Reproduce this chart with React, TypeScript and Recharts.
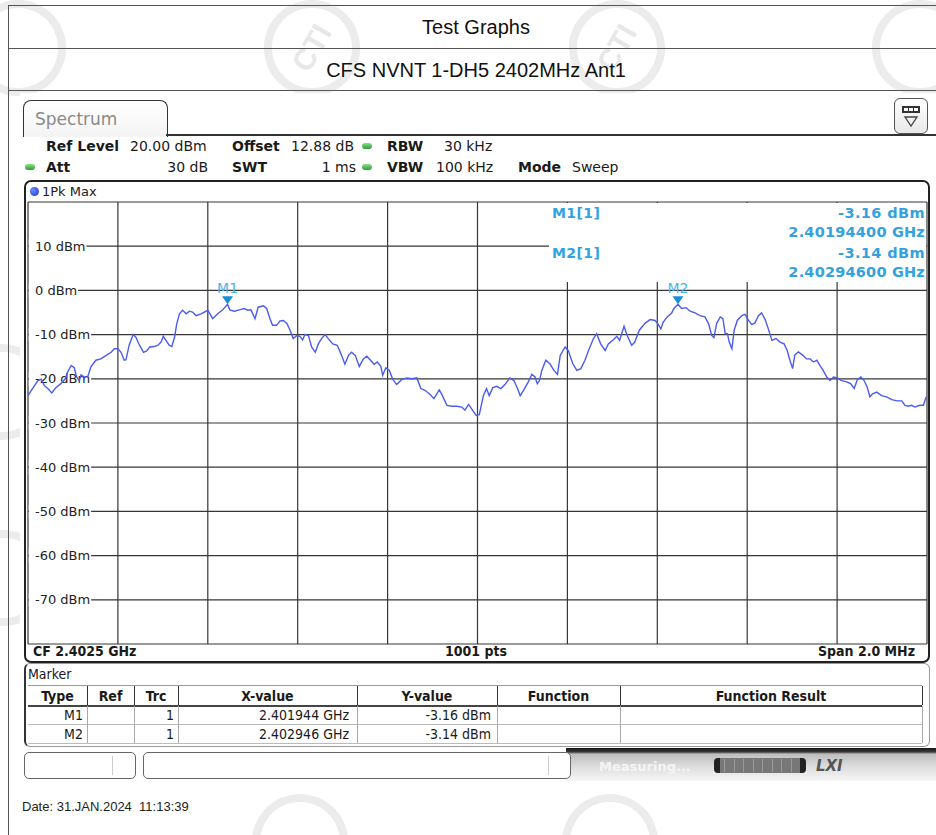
import React from 'react';
import { LineChart, Line, XAxis, YAxis, ReferenceLine, ReferenceDot } from 'recharts';

// 1Pk Max trace (MHz / dBm)
const freqMHz = [
  2401.500, 2401.510, 2401.522, 2401.529, 2401.536, 2401.544, 2401.553, 2401.562, 2401.573, 2401.583,
  2401.588, 2401.596, 2401.603, 2401.608, 2401.614, 2401.618, 2401.625, 2401.633, 2401.640, 2401.651,
  2401.662, 2401.674, 2401.685, 2401.692, 2401.700, 2401.707, 2401.714, 2401.718, 2401.725, 2401.734,
  2401.740, 2401.748, 2401.757, 2401.764, 2401.771, 2401.781, 2401.789, 2401.796, 2401.801, 2401.807,
  2401.814, 2401.820, 2401.826, 2401.831, 2401.837, 2401.844, 2401.852, 2401.859, 2401.866, 2401.874,
  2401.885, 2401.900, 2401.911, 2401.922, 2401.933, 2401.944, 2401.949, 2401.959, 2401.970, 2401.981,
  2401.989, 2401.996, 2402.005, 2402.012, 2402.024, 2402.031, 2402.037, 2402.044, 2402.053, 2402.061,
  2402.068, 2402.076, 2402.083, 2402.090, 2402.098, 2402.105, 2402.111, 2402.116, 2402.124, 2402.131,
  2402.139, 2402.146, 2402.153, 2402.161, 2402.168, 2402.178, 2402.188, 2402.196, 2402.205, 2402.213,
  2402.220, 2402.228, 2402.237, 2402.246, 2402.254, 2402.262, 2402.270, 2402.277, 2402.285, 2402.289,
  2402.296, 2402.304, 2402.311, 2402.320, 2402.331, 2402.343, 2402.354, 2402.365, 2402.374, 2402.383,
  2402.394, 2402.403, 2402.415, 2402.420, 2402.432, 2402.443, 2402.454, 2402.465, 2402.472, 2402.480,
  2402.487, 2402.497, 2402.504, 2402.513, 2402.520, 2402.526, 2402.534, 2402.543, 2402.552, 2402.561,
  2402.572, 2402.581, 2402.589, 2402.595, 2402.603, 2402.613, 2402.621, 2402.628, 2402.633, 2402.638,
  2402.643, 2402.652, 2402.661, 2402.670, 2402.678, 2402.684, 2402.695, 2402.702, 2402.712, 2402.721,
  2402.730, 2402.739, 2402.747, 2402.758, 2402.765, 2402.774, 2402.784, 2402.791, 2402.801, 2402.810,
  2402.816, 2402.826, 2402.833, 2402.843, 2402.850, 2402.860, 2402.873, 2402.884, 2402.895, 2402.901,
  2402.908, 2402.913, 2402.922, 2402.932, 2402.937, 2402.946, 2402.954, 2402.964, 2402.973, 2402.984,
  2402.995, 2403.006, 2403.014, 2403.021, 2403.026, 2403.032, 2403.040, 2403.046, 2403.051, 2403.056,
  2403.060, 2403.066, 2403.071, 2403.078, 2403.088, 2403.095, 2403.103, 2403.110, 2403.117, 2403.125,
  2403.132, 2403.140, 2403.147, 2403.155, 2403.164, 2403.173, 2403.182, 2403.189, 2403.195, 2403.201,
  2403.206, 2403.214, 2403.224, 2403.232, 2403.240, 2403.247, 2403.255, 2403.262, 2403.269, 2403.277,
  2403.284, 2403.292, 2403.300, 2403.310, 2403.321, 2403.330, 2403.338, 2403.345, 2403.353, 2403.360,
  2403.367, 2403.373, 2403.379, 2403.388, 2403.399, 2403.410, 2403.422, 2403.433, 2403.444, 2403.451,
  2403.458, 2403.466, 2403.473, 2403.484, 2403.492, 2403.498,
];

const levelDbm = [
  -23.8, -22.2, -20.4, -20.1, -21.5, -22.2, -23.2, -22.0, -21.1, -20.0,
  -18.5, -17.0, -17.5, -19.6, -20.4, -19.1, -19.6, -19.5, -17.3, -15.8,
  -15.5, -14.7, -14.0, -13.2, -13.2, -14.0, -15.8, -15.7, -12.4, -10.0,
  -10.6, -12.4, -14.0, -13.7, -12.8, -12.7, -12.4, -11.7, -10.4, -11.3,
  -12.4, -12.7, -10.6, -7.5, -5.3, -4.5, -5.3, -4.7, -4.9, -5.7,
  -5.3, -4.5, -6.4, -5.3, -4.4, -3.16, -4.4, -4.7, -4.4, -4.1,
  -4.5, -4.4, -6.4, -3.8, -3.5, -4.1, -6.0, -7.9, -7.9, -6.9,
  -6.8, -7.5, -9.0, -10.9, -10.2, -10.4, -11.2, -10.0, -10.2, -12.8,
  -14.0, -12.1, -10.9, -10.0, -10.9, -12.1, -12.4, -14.3, -16.7, -14.7,
  -14.0, -14.7, -17.2, -15.5, -14.9, -15.8, -16.7, -16.2, -17.2, -19.2,
  -17.5, -18.1, -20.0, -21.3, -20.2, -19.8, -20.0, -19.8, -22.2, -22.6,
  -23.5, -24.5, -22.5, -23.4, -26.0, -26.2, -26.2, -26.4, -27.1, -25.8,
  -26.8, -28.3, -28.1, -23.8, -22.2, -23.8, -22.0, -21.7, -22.2, -21.3,
  -19.8, -20.4, -22.2, -23.8, -22.5, -20.7, -19.0, -19.6, -21.1, -20.4,
  -18.1, -15.8, -16.6, -18.1, -19.0, -14.7, -12.8, -13.6, -16.6, -18.1,
  -17.7, -15.8, -13.6, -10.9, -9.8, -12.1, -13.6, -12.1, -11.3, -10.4,
  -11.3, -8.1, -10.2, -12.4, -11.7, -9.0, -7.4, -6.6, -6.8, -7.5,
  -8.7, -7.2, -6.0, -5.1, -4.1, -3.14, -4.1, -3.9, -4.7, -5.1,
  -5.7, -6.0, -7.5, -10.2, -10.7, -7.5, -6.0, -6.4, -9.8, -9.8,
  -11.7, -13.2, -9.0, -6.8, -5.7, -5.4, -6.8, -7.7, -7.4, -5.7,
  -5.1, -6.6, -8.7, -11.3, -10.9, -11.7, -12.1, -13.6, -15.8, -17.7,
  -14.6, -13.9, -14.7, -15.5, -15.5, -16.2, -15.8, -17.0, -18.1, -19.6,
  -20.4, -19.6, -19.8, -20.4, -20.7, -21.1, -22.2, -20.2, -19.6, -20.4,
  -21.9, -24.1, -23.4, -23.0, -23.8, -24.1, -24.7, -25.0, -25.0, -26.0,
  -26.2, -26.0, -26.4, -26.0, -26.0, -24.1,
];

// 10 divisions across the 2 MHz span, 10 dB per division
const freqTicks = [2401.5, 2401.7, 2401.9, 2402.1, 2402.3, 2402.5, 2402.7, 2402.9, 2403.1, 2403.3, 2403.5];
const levelTicks = [20, 10, 0, -10, -20, -30, -40, -50, -60, -70, -80];
const levelLabels = [10, 0, -10, -20, -30, -40, -50, -60, -70];

// peak markers
const markerNames = ['M1', 'M2'];
const markerFreqMHz = [2401.944, 2402.946];
const markerLevelDbm = [-3.16, -3.14];

const trace = freqMHz.map((f, i) => ({ f, v: levelDbm[i] }));

const INSTR = '"DejaVu Sans", Verdana, sans-serif';
const COND = '"DejaVu Sans Condensed", "DejaVu Sans", sans-serif';
const ARIAL = '"Liberation Sans", Arial, sans-serif';
const MARKER_BLUE = '#33a2de';
const GRID = '#363636';

type TxtProps = {
  x: number;
  y: number;
  children: React.ReactNode;
  size?: number;
  bold?: boolean;
  color?: string;
  anchor?: 'start' | 'middle' | 'end';
  font?: string;
  spacing?: number;
};

const Txt = ({ x, y, children, size = 14, bold, color = '#1a1a1a', anchor = 'start', font = INSTR, spacing = 0 }: TxtProps) => {
  const tx = anchor === 'start' ? '0' : anchor === 'middle' ? '-50%' : '-100%';
  return (
    <div
      style={{
        position: 'absolute',
        left: x,
        top: y,
        transform: `translate(${tx}, -50%)`,
        fontSize: size,
        fontWeight: bold ? 'bold' : 'normal',
        color,
        fontFamily: font,
        letterSpacing: spacing,
        whiteSpace: 'pre',
        lineHeight: 1,
      }}
    >
      {children}
    </div>
  );
};

const Box = ({ style }: { style: React.CSSProperties }) => <div style={{ position: 'absolute', boxSizing: 'border-box', ...style }} />;

// faint round stamp; the ones sitting on the page edge only show their ring
const Stamp = ({ cx, cy, text = true }: { cx: number; cy: number; text?: boolean }) => (
  <div
    style={{
      position: 'absolute',
      left: cx - 48,
      top: cy - 48,
      width: 96,
      height: 96,
      borderRadius: '50%',
      border: '8px solid #ececec',
      boxSizing: 'border-box',
      color: '#e8e8e8',
      fontFamily: ARIAL,
      fontWeight: 'bold',
      fontSize: 30,
      display: 'flex',
      alignItems: 'center',
      justifyContent: 'center',
      transform: 'rotate(-60deg)',
    }}
  >
    {text ? 'CTI' : null}
  </div>
);

const GreenDot = ({ x, y }: { x: number; y: number }) => (
  <div
    style={{
      position: 'absolute',
      left: x - 5,
      top: y - 3,
      width: 10,
      height: 6,
      borderRadius: 3,
      background: 'linear-gradient(#8be08b, #2f9a36)',
    }}
  />
);

// rough DejaVu Sans advance widths at 13px, for the white plate behind level labels
const glyphW = (ch: string) => (ch === '-' ? 4.7 : ch === ' ' ? 4.1 : ch === 'm' ? 12.7 : ch === 'B' ? 8.9 : 8.3);
const labelWidth = (s: string) => s.split('').reduce((a, c) => a + glyphW(c), 0);

const DbmLabel = ({ viewBox, value }: { viewBox?: any; value: number }) => {
  if (!viewBox || !levelLabels.includes(value)) return null;
  const text = `${value} dBm`;
  const w = labelWidth(text);
  const x = viewBox.x ?? 1;
  const y = viewBox.y;
  return (
    <g>
      <rect x={x + 0.8} y={y - 7} width={w + 7} height={14} fill="#fff" />
      <text x={x + 7} y={y} dy="0.36em" fontFamily={INSTR} fontSize={13} fill="#222">
        {text}
      </text>
    </g>
  );
};

const markerShape = (name: string) => (p: any) => (
  <g>
    <path d={`M${p.cx - 5.5},${p.cy - 8} L${p.cx + 5.5},${p.cy - 8} L${p.cx},${p.cy} Z`} fill="#1b8fd6" />
    <text x={p.cx} y={p.cy - 11} textAnchor="middle" fontFamily={INSTR} fontSize={14} fill="#4cb5ea">
      {name}
    </text>
  </g>
);

const colEdges = [28, 87, 134, 178, 357, 497, 620, 922];
const tableHeads = ['Type', 'Ref', 'Trc', 'X-value', 'Y-value', 'Function', 'Function Result'];

export default function App() {
  const PLOT_X = 27;
  const PLOT_Y = 201;
  const PLOT_W = 901;
  const PLOT_H = 444;
  const margin = { top: 1, right: 1, bottom: 1, left: 1 };

  return (
    <div
      style={{
        position: 'absolute',
        left: 0,
        top: 0,
        width: 936,
        height: 835,
        background: '#fff',
        overflow: 'hidden',
        fontFamily: ARIAL,
      }}
    >
      {/* faint stamps behind everything */}
      <Stamp cx={18} cy={48} text={false} />
      <Stamp cx={312} cy={48} />
      <Stamp cx={617} cy={48} />
      <Stamp cx={920} cy={48} text={false} />
      <Stamp cx={2} cy={392} text={false} />
      <Stamp cx={4} cy={578} text={false} />
      <Stamp cx={300} cy={842} text={false} />
      <Stamp cx={610} cy={842} text={false} />

      {/* report table frame */}
      <Box style={{ left: 8, top: 5, width: 940, height: 1, background: '#555' }} />
      <Box style={{ left: 8, top: 48, width: 940, height: 1, background: '#555' }} />
      <Box style={{ left: 8, top: 90, width: 940, height: 1, background: '#555' }} />
      <Box style={{ left: 8, top: 5, width: 1, height: 840, background: '#555' }} />
      <Txt x={476} y={27} size={20} anchor="middle" font={ARIAL} color="#111">
        Test Graphs
      </Txt>
      <Txt x={476} y={70} size={20} anchor="middle" font={ARIAL} color="#111">
        CFS NVNT 1-DH5 2402MHz Ant1
      </Txt>

      {/* analyzer screen */}
      <Box style={{ left: 20, top: 93, width: 916, height: 688, background: '#fff' }} />

      {/* tab */}
      <Box
        style={{
          left: 23,
          top: 100,
          width: 145,
          height: 37,
          border: '1.5px solid #333',
          borderBottom: 'none',
          borderRadius: '8px 8px 0 0',
          background: 'linear-gradient(#fff, #f4f4f4)',
        }}
      />
      <Txt x={35} y={119} size={17} color="#8a8a8a">
        Spectrum
      </Txt>
      <Box style={{ left: 166, top: 134, width: 770, height: 2, background: '#333' }} />

      {/* display config icon */}
      <Box
        style={{
          left: 894,
          top: 98,
          width: 34,
          height: 36,
          border: '1.5px solid #555',
          borderRadius: 6,
          background: 'linear-gradient(#fff, #e8e8e8)',
        }}
      />
      <svg style={{ position: 'absolute', left: 894, top: 98 }} width={34} height={36}>
        <rect x={8} y={8} width={18} height={7} fill="#333" />
        <rect x={10} y={10} width={4} height={3} fill="#fff" />
        <rect x={15} y={10} width={4} height={3} fill="#fff" />
        <rect x={20} y={10} width={4} height={3} fill="#fff" />
        <path d="M11,19 L23,19 L17,28 Z" fill="none" stroke="#444" strokeWidth={1.3} />
      </svg>

      {/* settings rows */}
      <Txt x={46} y={146} bold>Ref Level</Txt>
      <Txt x={130} y={146}>20.00 dBm</Txt>
      <Txt x={232} y={146} bold>Offset</Txt>
      <Txt x={291} y={146}>12.88 dB</Txt>
      <GreenDot x={367} y={146} />
      <Txt x={387} y={146} bold>RBW</Txt>
      <Txt x={444} y={146}>30 kHz</Txt>

      <GreenDot x={30} y={167} />
      <Txt x={46} y={167} bold>Att</Txt>
      <Txt x={208} y={167} anchor="end">30 dB</Txt>
      <Txt x={232} y={167} bold>SWT</Txt>
      <Txt x={356} y={167} anchor="end">1 ms</Txt>
      <GreenDot x={367} y={167} />
      <Txt x={387} y={167} bold>VBW</Txt>
      <Txt x={436} y={167}>100 kHz</Txt>
      <Txt x={518} y={167} bold>Mode</Txt>
      <Txt x={572} y={167}>Sweep</Txt>

      {/* diagram frame */}
      <Box
        style={{
          left: 24,
          top: 180,
          width: 906,
          height: 483,
          border: '2px solid #222',
          borderRadius: 7,
          background: '#fff',
        }}
      />
      <div
        style={{
          position: 'absolute',
          left: 30,
          top: 187,
          width: 9,
          height: 9,
          borderRadius: '50%',
          background: 'radial-gradient(circle at 35% 35%, #6f8cff, #1234c8)',
        }}
      />
      <Txt x={42} y={191} size={13} color="#222">1Pk Max</Txt>

      {/* graticule with level labels */}
      <div style={{ position: 'absolute', left: PLOT_X, top: PLOT_Y }}>
        <LineChart width={PLOT_W} height={PLOT_H} data={trace} margin={margin}>
          <XAxis dataKey="f" type="number" domain={[2401.5, 2403.5]} hide />
          <YAxis type="number" domain={[-80, 20]} hide />
          {freqTicks.map((f) => (
            <ReferenceLine key={`f${f}`} x={f} stroke={GRID} strokeWidth={1.2} ifOverflow="visible" />
          ))}
          {levelTicks.map((v) => (
            <ReferenceLine
              key={`l${v}`}
              y={v}
              stroke={GRID}
              strokeWidth={1.2}
              ifOverflow="visible"
              label={(p: any) => <DbmLabel viewBox={p.viewBox} value={v} />}
            />
          ))}
          <Line dataKey="v" stroke="none" dot={false} isAnimationActive={false} />
        </LineChart>
      </div>

      {/* marker readout block */}
      <Box style={{ left: 549, top: 203, width: 377, height: 79, background: '#fff' }} />
      <Txt x={552} y={213} size={14} bold color={MARKER_BLUE} spacing={0.4}>{`${markerNames[0]}[1]`}</Txt>
      <Txt x={925} y={213} size={14.5} bold color={MARKER_BLUE} anchor="end" spacing={0.4}>
        {`${markerLevelDbm[0].toFixed(2)} dBm`}
      </Txt>
      <Txt x={925} y={232} size={14.5} bold color={MARKER_BLUE} anchor="end" spacing={0.2}>
        {`${(markerFreqMHz[0] / 1000).toFixed(8)} GHz`}
      </Txt>
      <Txt x={552} y={253} size={14} bold color={MARKER_BLUE} spacing={0.4}>{`${markerNames[1]}[1]`}</Txt>
      <Txt x={925} y={253} size={14.5} bold color={MARKER_BLUE} anchor="end" spacing={0.4}>
        {`${markerLevelDbm[1].toFixed(2)} dBm`}
      </Txt>
      <Txt x={925} y={272} size={14.5} bold color={MARKER_BLUE} anchor="end" spacing={0.2}>
        {`${(markerFreqMHz[1] / 1000).toFixed(8)} GHz`}
      </Txt>

      {/* trace and markers on top */}
      <div style={{ position: 'absolute', left: PLOT_X, top: PLOT_Y }}>
        <LineChart width={PLOT_W} height={PLOT_H} data={trace} margin={margin}>
          <XAxis dataKey="f" type="number" domain={[2401.5, 2403.5]} hide />
          <YAxis type="number" domain={[-80, 20]} hide />
          <Line
            type="linear"
            dataKey="v"
            stroke="#4b5cf0"
            strokeWidth={1.4}
            dot={false}
            isAnimationActive={false}
          />
          {markerNames.map((name, i) => (
            <ReferenceDot
              key={name}
              x={markerFreqMHz[i]}
              y={markerLevelDbm[i]}
              r={0}
              ifOverflow="visible"
              shape={markerShape(name)}
            />
          ))}
        </LineChart>
      </div>

      {/* footer of diagram */}
      <Txt x={33} y={651} size={14} bold font={COND}>CF 2.4025 GHz</Txt>
      <Txt x={476} y={651} size={14} bold font={COND} anchor="middle">1001 pts</Txt>
      <Txt x={915} y={651} size={14} bold font={COND} anchor="end">Span 2.0 MHz</Txt>

      {/* marker table */}
      <Box
        style={{
          left: 24,
          top: 663,
          width: 906,
          height: 84,
          border: '1px solid #999',
          borderLeft: '2px solid #333',
          borderRadius: 6,
          background: '#fff',
        }}
      />
      <Txt x={28} y={674} size={14} font={COND}>Marker</Txt>
      <Box style={{ left: 28, top: 685, width: 894, height: 1, background: '#999' }} />
      <Box style={{ left: 28, top: 705, width: 894, height: 1.5, background: '#444' }} />
      <Box style={{ left: 28, top: 724, width: 894, height: 1, background: '#bbb' }} />
      <Box style={{ left: 28, top: 743, width: 894, height: 1, background: '#bbb' }} />
      {colEdges.slice(1).map((x, i) => (
        <React.Fragment key={x}>
          <Box style={{ left: x, top: 686, width: 1, height: 19, background: '#333' }} />
          <Box style={{ left: x, top: 706, width: 1, height: 37, background: '#aaa' }} />
          <Txt x={(colEdges[i] + x) / 2} y={696} size={14} bold font={COND} anchor="middle">
            {tableHeads[i]}
          </Txt>
        </React.Fragment>
      ))}
      {markerNames.map((name, i) => {
        const cy = 715 + i * 19;
        return (
          <React.Fragment key={name}>
            <Txt x={colEdges[1] - 4} y={cy} size={14} font={COND} anchor="end">{name}</Txt>
            <Txt x={colEdges[3] - 4} y={cy} size={14} font={COND} anchor="end">1</Txt>
            <Txt x={colEdges[4] - 8} y={cy} size={14} font={COND} anchor="end">
              {`${(markerFreqMHz[i] / 1000).toFixed(6)} GHz`}
            </Txt>
            <Txt x={colEdges[5] - 6} y={cy} size={14} font={COND} anchor="end">
              {`${markerLevelDbm[i].toFixed(2)} dBm`}
            </Txt>
          </React.Fragment>
        );
      })}

      {/* status bar */}
      <Box
        style={{
          left: 566,
          top: 748,
          width: 370,
          height: 33,
          background: 'linear-gradient(#151515 0px, #3a3a3a 4px, #bdbdbd 6px, #dcdcdc 18px, #f6f6f6 33px)',
        }}
      />
      <Box
        style={{ left: 24, top: 752, width: 112, height: 27, border: '1px solid #666', borderRadius: 5, background: '#fff' }}
      />
      <Box style={{ left: 112, top: 756, width: 1, height: 19, background: '#ccc' }} />
      <Box
        style={{ left: 143, top: 752, width: 428, height: 27, border: '1px solid #666', borderRadius: 5, background: '#fff' }}
      />
      <Box style={{ left: 548, top: 756, width: 1, height: 19, background: '#ccc' }} />
      <Txt x={599} y={766} size={13} bold color="#f4f4f4">Measuring...</Txt>
      <Box
        style={{
          left: 714,
          top: 758,
          width: 92,
          height: 15,
          borderRadius: 4,
          background: 'linear-gradient(90deg, #222 0px, #222 6px, #777 6px, #777 86px, #222 86px)',
        }}
      />
      {[0, 1, 2, 3, 4, 5, 6, 7].map((k) => (
        <Box key={k} style={{ left: 724 + k * 9.5, top: 759, width: 1, height: 13, background: '#999' }} />
      ))}
      <Txt x={816} y={766} size={15} bold color="#555" font={INSTR}>
        <span style={{ fontStyle: 'italic' }}>LXI</span>
      </Txt>

      <Txt x={22} y={806} size={13} font={ARIAL} color="#222">
        Date: 31.JAN.2024  11:13:39
      </Txt>
    </div>
  );
}
